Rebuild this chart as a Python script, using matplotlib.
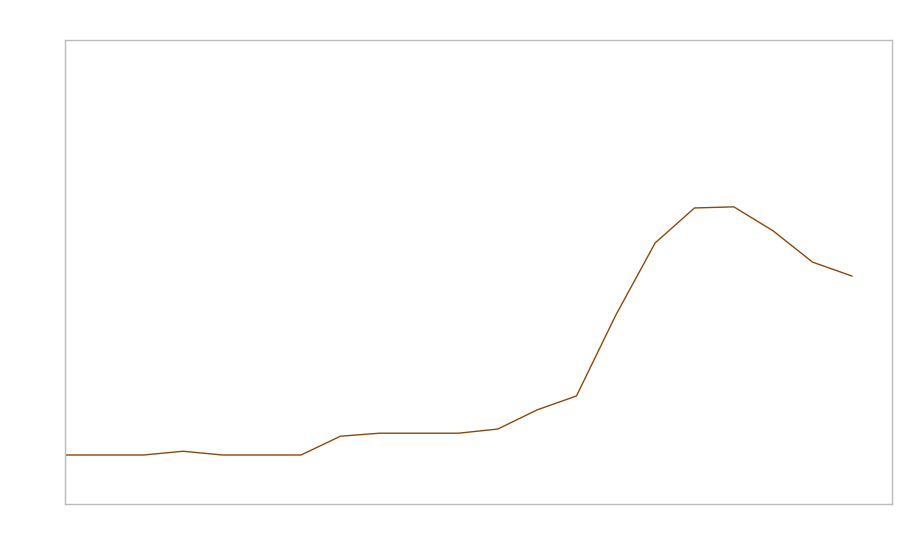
import matplotlib
matplotlib.use("Agg")
import matplotlib.pyplot as plt

x_index = list(range(21))
values = [0, 0, 0, 1, 0, 0, 0, 5, 5.8, 5.8, 5.8, 6.9, 12, 15.7, 37.2, 56.4, 65.7, 66, 59.6, 51.3, 47.6]

fig = plt.figure(figsize=(9, 5.6), dpi=100)
ax = fig.add_axes([65/900, 56/560, 827/900, 464/560])
ax.plot(x_index, values, color="#8a4a0a", linewidth=1.0)
ax.set_xlim(0, 21.02)
ax.set_ylim(-13.03, 110.37)
ax.set_xticks([])
ax.set_yticks([])
for s in ax.spines.values():
    s.set_color("#bbbbbb")
    s.set_linewidth(1.0)
fig.savefig("out.png", dpi=100)
